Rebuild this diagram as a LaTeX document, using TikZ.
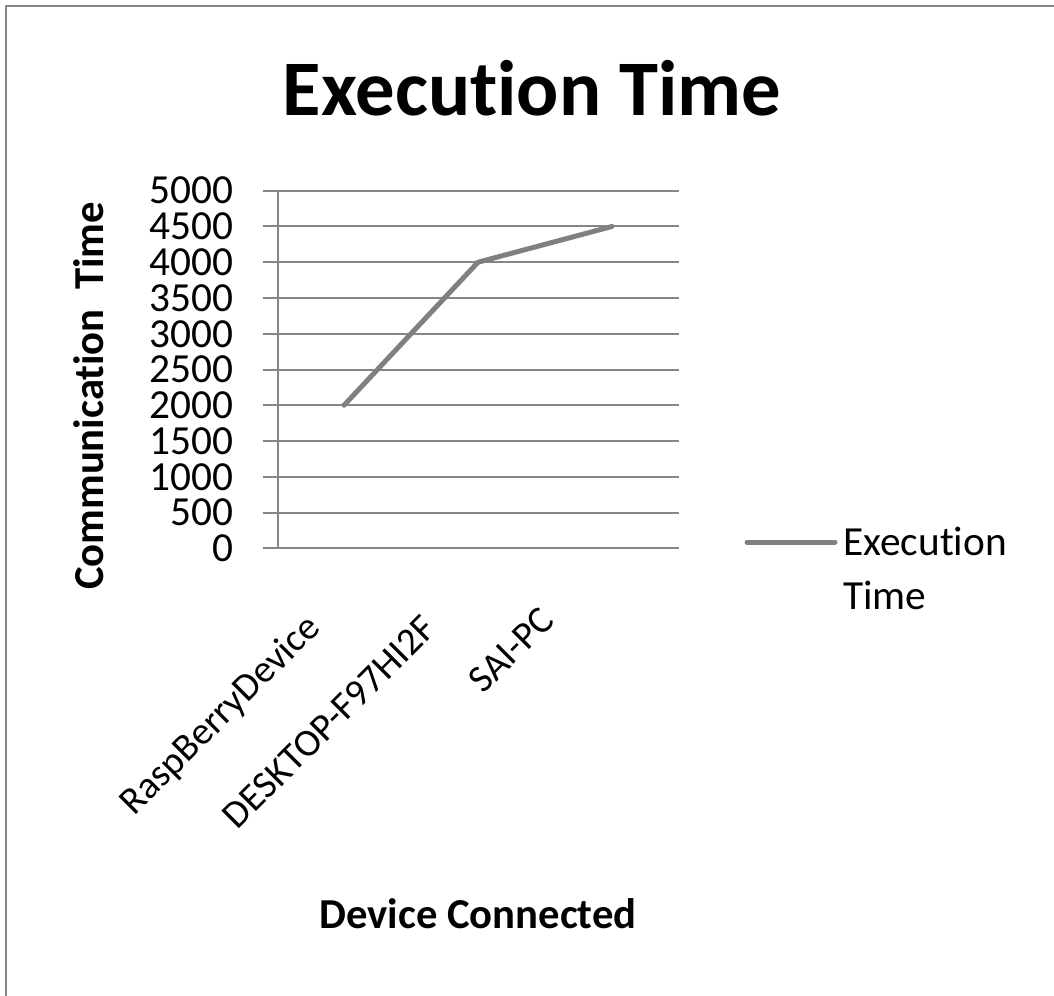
\documentclass[tikz,border=0pt]{standalone}
\usepackage{fontspec}
\setmainfont[Ligatures=NoCommon]{Carlito}
\definecolor{gridgray}{HTML}{868686}
\definecolor{linegray}{HTML}{808080}
\begin{document}
\begin{tikzpicture}[x=0.75pt,y=-0.75pt,
    ticklabel/.style={anchor=east,inner sep=0pt,font=\fontsize{31}{37}\selectfont},
    catlabel/.style={rotate=45,anchor=center,inner sep=0pt,font=\fontsize{29}{35}\selectfont},
    axistitle/.style={inner sep=0pt,font=\fontsize{32}{38}\selectfont\bfseries},
    gridline/.style={draw=gridgray,line width=1.5pt},
    dataline/.style={draw=linegray,line width=3.75pt,line join=round,line cap=round}]
  \useasboundingbox (0,0) rectangle (1054,996);
  \draw[gridgray,line width=1.5pt] (6,6) rectangle (1062,1004);

  % title
  \node [anchor=base,inner sep=0pt,font=\fontsize{59}{69}\selectfont\bfseries] (title) at (532,115) {Execution Time};

  % value axis
  \foreach \v in {0,500,...,5000} {
    \draw[gridline] (263,{548.3-\v*0.07152}) -- (679,{548.3-\v*0.07152});
    \node [ticklabel] (tick\v) at (234,{548.3-\v*0.07152}) {\v};
  }
  \draw[gridline] (278,190.7) -- (278,548.3);
  \node [axistitle,rotate=90] (ytitle) at (89,396) {Communication\ \ Time};

  % categories
  \node [catlabel] (rasp) at (221,716) {RaspBerryDevice};
  \node [catlabel] (desk) at (329,722) {DESKTOP-F97HI2F};
  \node [catlabel] (sai) at (511,650) {SAI-PC};
  \node [axistitle,anchor=base] (xtitle) at (478,928) {Device Connected};

  % series
  \coordinate (p1) at (344,{548.3-2000*0.07152});
  \coordinate (p2) at (478,{548.3-4000*0.07152});
  \coordinate (p3) at (612,{548.3-4500*0.07152});
  \draw[dataline] (p1) -- (p2) -- (p3);

  % legend
  \coordinate (key1) at (747,542);
  \coordinate (key2) at (835,542);
  \draw[dataline] (key1) -- (key2);
  \node [anchor=north west,inner sep=0pt,align=left,font=\fontsize{31}{40.5}\selectfont] (legend) at (843,527) {Execution\\Time};
\end{tikzpicture}
\end{document}
